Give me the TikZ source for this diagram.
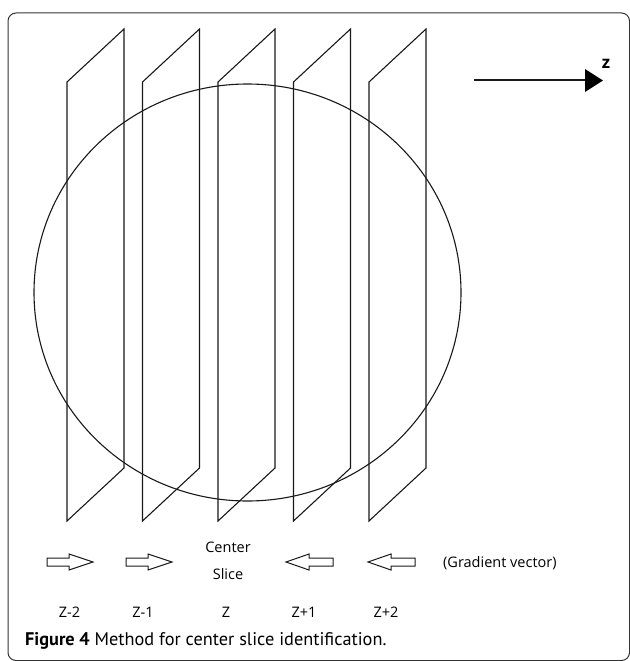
\documentclass[tikz,border=0pt]{standalone}
\usepackage{fontspec}
\setmainfont{Open Sans}
\newfontfamily\capfont{PT Sans}
\begin{document}
\begin{tikzpicture}[x=1pt,y=-1pt,
  line/.style={line width=1.1pt,black!90},
  lbl/.style={inner sep=0pt,font=\fontsize{14.5}{16}\selectfont},
  blk/.style={line width=1pt,black!90,line join=miter}]
\useasboundingbox (0,0) rectangle (629,661);
% frame
\draw[line width=1pt,black!80,rounded corners=8pt] (8,13) rectangle (629.5,660.5);
% planes
\foreach \L in {67,142.5,218,293.5,369}{
  \draw[line] (\L,82) -- (\L+57,29) -- (\L+57,468) -- (\L,521) -- cycle;
}
% sphere
\draw[line] (247.5,292.5) ellipse [x radius=213.5, y radius=208.5];
% z axis arrow
\coordinate (za) at (474,80);
\coordinate (zb) at (586,80);
\draw[line] (za) -- (zb);
\fill[black] (585,69) -- (603,80.5) -- (585,92) -- cycle;
\node[inner sep=0pt,font=\fontsize{17}{18}\selectfont\bfseries] (zl) at (606,64) {z};
% gradient block arrows
\foreach \a in {47,126}{
  \draw[blk] (\a,558) -- (\a+22,558) -- (\a+22,554) -- (\a+46,562) -- (\a+22,570) -- (\a+22,566) -- (\a,566) -- cycle;
}
\foreach \a in {333,415}{
  \draw[blk] (\a,558) -- (\a-24,558) -- (\a-24,554) -- (\a-47,562) -- (\a-24,570) -- (\a-24,566) -- (\a,566) -- cycle;
}
\node[lbl] (cen) at (228,547) {Center};
\node[lbl] (sli) at (228,574) {Slice};
\node[lbl,anchor=west] (grad) at (443,563) {(Gradient vector)};
\node[lbl] (z2m) at (69.5,612) {Z-2};
\node[lbl] (z1m) at (143,612) {Z-1};
\node[lbl] (z0) at (226,612) {Z};
\node[lbl] (z1p) at (304,612) {Z+1};
\node[lbl] (z2p) at (386,612) {Z+2};
\node[inner sep=0pt,anchor=west,font=\capfont\fontsize{18.3}{20}\selectfont] (cap) at (25,641) {\textbf{Figure 4} Method for center slice identification.};
\end{tikzpicture}
\end{document}
